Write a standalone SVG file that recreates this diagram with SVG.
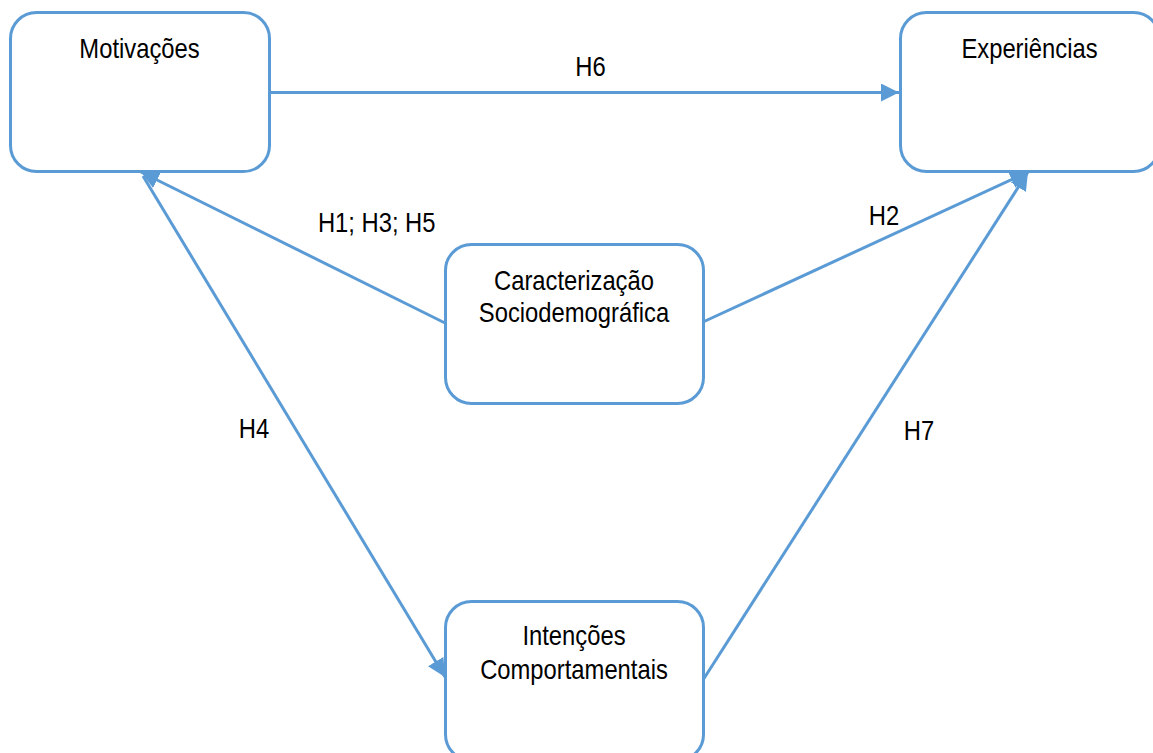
<svg xmlns="http://www.w3.org/2000/svg" width="1153" height="753" viewBox="0 0 1153 753">
<style>
.box{fill:#fff;stroke:#5B9BD5;stroke-width:3}
.ln{fill:none;stroke:#5B9BD5;stroke-width:3}
.t{font-family:"Liberation Sans",Arial,sans-serif;font-size:28px;fill:#000;text-anchor:middle}
</style>
<defs>
<marker id="ah" viewBox="0 0 10 10" refX="10" refY="5" markerWidth="6" markerHeight="6" markerUnits="strokeWidth" orient="auto">
<path d="M0,0 L10,5 L0,10 z" fill="#5B9BD5"/>
</marker>
</defs>
<rect width="1153" height="753" fill="#fff"/>
<g id="connectors">
<line class="ln" x1="269" y1="92.5" x2="899" y2="92.5" marker-end="url(#ah)"/>
<line class="ln" x1="445" y1="323" x2="141" y2="172" marker-end="url(#ah)"/>
<line class="ln" x1="143" y1="176" x2="445" y2="677" marker-end="url(#ah)"/>
<line class="ln" x1="703" y1="322" x2="1028" y2="172" marker-end="url(#ah)"/>
<line class="ln" x1="703" y1="680" x2="1028" y2="172" marker-end="url(#ah)"/>
</g>
<g id="labels">
<text class="t" transform="translate(590.5,76) scale(0.85,1)">H6</text>
<text class="t" transform="translate(376.7,231.5) scale(0.85,1)">H1; H3; H5</text>
<text class="t" transform="translate(884,225) scale(0.85,1)">H2</text>
<text class="t" transform="translate(254,438) scale(0.85,1)">H4</text>
<text class="t" transform="translate(919,440) scale(0.85,1)">H7</text>
</g>
<g id="motivacoes">
<rect class="box" x="10.5" y="12.5" width="259" height="159" rx="26"/>
<text class="t" transform="translate(139.5,58) scale(0.85,1)">Motivações</text>
</g>
<g id="experiencias">
<rect class="box" x="900.5" y="12.5" width="259" height="159" rx="26"/>
<text class="t" transform="translate(1029.5,58) scale(0.85,1)">Experiências</text>
</g>
<g id="caracterizacao">
<rect class="box" x="445.5" y="244.5" width="258" height="159" rx="26"/>
<text class="t" transform="translate(574,290) scale(0.85,1)">Caracterização</text>
<text class="t" transform="translate(574,322) scale(0.85,1)">Sociodemográfica</text>
</g>
<g id="intencoes">
<rect class="box" x="445.5" y="601.5" width="258" height="159" rx="26"/>
<text class="t" transform="translate(574,645) scale(0.85,1)">Intenções</text>
<text class="t" transform="translate(574,679) scale(0.85,1)">Comportamentais</text>
</g>
</svg>
